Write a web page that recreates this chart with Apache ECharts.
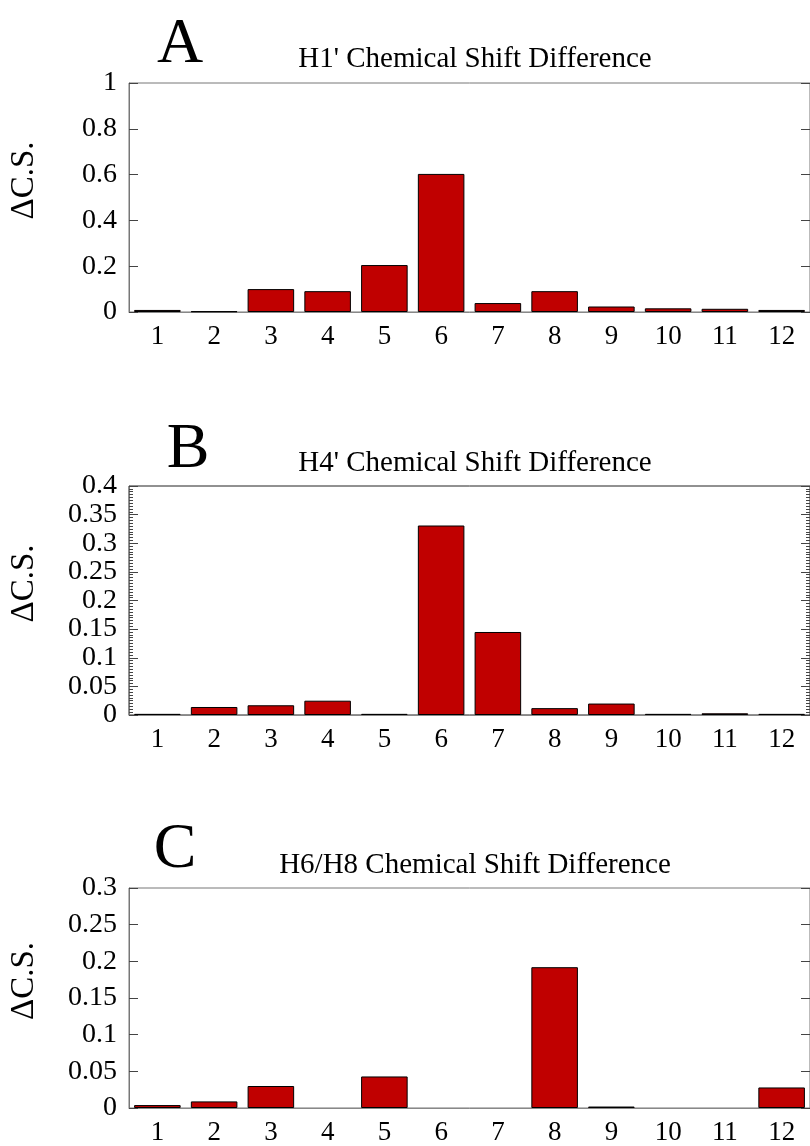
<!DOCTYPE html>
<html>
<head>
	<title>Chemical shift differences</title>
	<meta charset="utf-8">
	<script src="https://cdn.jsdelivr.net/npm/echarts@6/dist/echarts.min.js"></script>
	<style>
		html, body { margin: 0; padding: 0; background: #fff; }
		#main { width: 810px; height: 1146px; }
	</style>
	<script>
	// residues on the x axis
	var residues = ['1', '2', '3', '4', '5', '6', '7', '8', '9', '10', '11', '12'];
	// delta C.S. for each panel
	var h1Shift = [0.009, 0.003, 0.100, 0.091, 0.205, 0.603, 0.039, 0.091, 0.024, 0.016, 0.014, 0.009];
	var h4Shift = [0.002, 0.014, 0.017, 0.025, 0.002, 0.331, 0.145, 0.012, 0.020, 0.002, 0.003, 0.002];
	var h6h8Shift = [0.004, 0.009, 0.030, 0, 0.043, 0, 0, 0.192, 0.002, 0, 0, 0.028];

	var panelTitles = ["H1' Chemical Shift Difference", "H4' Chemical Shift Difference", "H6/H8 Chemical Shift Difference"];
	var panelLetters = ['A', 'B', 'C'];
	var yMax = [1, 0.4, 0.3];
	var yStep = [0.2, 0.05, 0.05];

	var font = 'Liberation Serif';
	var barRed = '#c00000';

	var gridTops = [83, 486, 888];
	var letterX = [175, 183, 170];
	var letterTop = [8, 413, 813];
	var titleTop = [40, 444, 846];

	// no bar drawn at all where the value is zero
	function barData(values) {
		return values.map(function(v) {
			if (v === 0) {
				return { value: 0, itemStyle: { borderWidth: 0, opacity: 0 } };
			}
			return v;
		});
	}

	function buildOption() {
		var grids = [], xAxes = [], yAxes = [], series = [], titles = [];
		var data = [h1Shift, h4Shift, h6h8Shift];

		for (var i = 0; i < 3; i++) {
			grids.push({
				left: 128,
				top: gridTops[i],
				width: 684,
				height: 229,
				show: true,
				borderColor: i === 1 ? '#222' : '#777',
				borderWidth: 1
			});
			xAxes.push({
				type: 'category',
				gridIndex: i,
				data: residues,
				axisTick: { show: false },
				axisLine: { lineStyle: { color: '#888', width: 1 } },
				axisLabel: { color: '#000', fontFamily: font, fontSize: 27, margin: 11 }
			});
			// left axis with labels
			yAxes.push({
				type: 'value',
				gridIndex: i,
				min: 0,
				max: yMax[i],
				interval: yStep[i],
				name: '\u0394C.S.',
				nameLocation: 'middle',
				nameRotate: 90,
				nameGap: 88,
				nameTextStyle: { color: '#000', fontFamily: font, fontSize: 33, padding: [0, 0, 0, 34] },
				splitLine: { show: false },
				axisLine: { show: true, lineStyle: { color: '#777' } },
				axisTick: { show: true, inside: true, length: 9, lineStyle: { color: '#444' } },
				minorTick: { show: i === 1, splitNumber: 10, length: 4, lineStyle: { color: '#444' } },
				axisLabel: { color: '#000', fontFamily: font, fontSize: 28, margin: 12 }
			});
			// right axis, ticks only
			yAxes.push({
				type: 'value',
				gridIndex: i,
				position: 'right',
				min: 0,
				max: yMax[i],
				interval: yStep[i],
				splitLine: { show: false },
				axisLine: { show: false },
				axisTick: { show: true, inside: true, length: 9, lineStyle: { color: '#444' } },
				minorTick: { show: i === 1, splitNumber: 10, length: 4, lineStyle: { color: '#444' } },
				axisLabel: { show: false }
			});
			series.push({
				type: 'bar',
				xAxisIndex: i,
				yAxisIndex: i * 2,
				data: barData(data[i]),
				barWidth: '82%',
				itemStyle: {
					color: barRed,
					borderColor: '#000',
					borderWidth: 1
				}
			});
			titles.push({
				text: panelLetters[i],
				left: letterX[i],
				top: letterTop[i],
				textAlign: 'center',
				textStyle: { fontFamily: font, fontSize: 64, fontWeight: 'normal', color: '#000' }
			});
			titles.push({
				text: panelTitles[i],
				left: 470,
				top: titleTop[i],
				textAlign: 'center',
				textStyle: { fontFamily: font, fontSize: 29, fontWeight: 'normal', color: '#000' }
			});
		}

		return {
			backgroundColor: '#fff',
			animation: false,
			title: titles,
			grid: grids,
			xAxis: xAxes,
			yAxis: yAxes,
			series: series
		};
	}

	window.onload = function() {
		var chart = echarts.init(document.getElementById('main'));
		chart.setOption(buildOption());
	};
	</script>
</head>
<body>
<div id="main"></div>
</body>
</html>
